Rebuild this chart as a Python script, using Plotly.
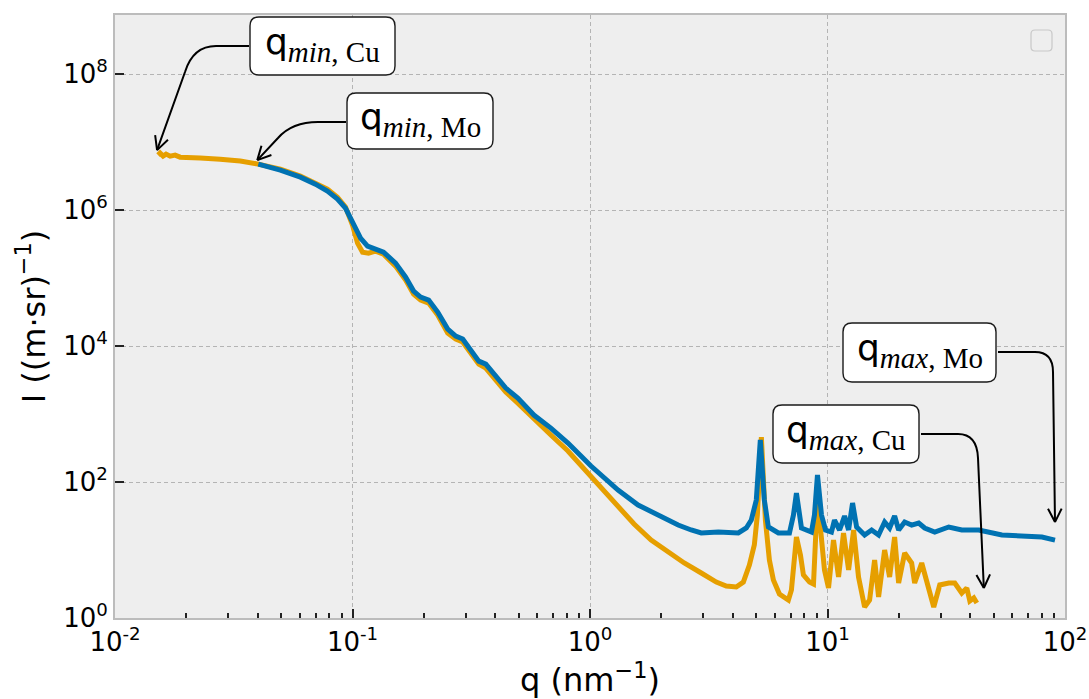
import numpy as np
import plotly.graph_objects as go

# ---------------- data ----------------
q_cu = [0.01518, 0.01548, 0.01594, 0.01641, 0.01707, 0.01791, 0.01880, 0.02073, 0.02284, 0.02773,
        0.03369, 0.04012, 0.04968, 0.06034, 0.06980, 0.07842, 0.08645, 0.09343, 0.1000, 0.1050,
        0.1102, 0.1168, 0.1250, 0.1351, 0.1518, 0.1674, 0.1808, 0.1936, 0.2093, 0.2284,
        0.2517, 0.2720, 0.2911, 0.3147, 0.3401, 0.3640, 0.4012, 0.4420, 0.4968, 0.5803,
        0.6844, 0.8077, 1.0097, 1.168, 1.3127, 1.533, 1.809, 2.134, 2.493, 2.941,
        3.402, 3.748, 4.130, 4.422, 4.689, 4.920, 5.066, 5.267, 5.476, 5.693,
        5.918, 6.274, 6.845, 7.048, 7.400, 7.693, 7.919, 8.398, 8.731, 9.073,
        9.434, 9.712, 10.10, 10.60, 11.13, 11.68, 12.27, 12.88, 13.51, 14.33,
        15.04, 15.79, 16.41, 17.40, 18.26, 19.17, 19.93, 21.13, 22.61, 23.28,
        24.93, 26.68, 28.01, 29.69, 32.40, 34.35, 36.76, 38.60, 39.74, 41.30, 42.54]
I_cu = [6.44e6, 6.89e6, 6.22e6, 6.66e6, 6.22e6, 6.44e6, 6.01e6, 6.01e6, 5.82e6, 5.62e6,
        5.26e6, 4.75e6, 4.01e6, 3.16e6, 2.50e6, 2.04e6, 1.55e6, 1.11e6, 6.01e5, 3.27e5,
        2.41e5, 2.33e5, 2.49e5, 2.25e5, 1.50e5, 9.35e4, 5.82e4, 4.75e4, 4.29e4, 2.86e4,
        1.55e4, 1.27e4, 1.15e4, 7.89e3, 5.43e3, 4.75e3, 3.06e3, 2.11e3, 1.45e3, 844,
        491, 286, 119, 71.3, 42.9, 24.1, 14.0, 9.35, 6.44, 4.59,
        3.38, 2.96, 2.86, 3.38, 6.02, 11.9, 32.7, 459, 27.6, 7.13,
        3.62, 2.25, 1.84, 2.58, 15.5, 8.44, 4.29, 3.38, 3.16, 60.2,
        11.9, 5.08, 2.76, 14.0, 4.01, 17.8, 5.08, 19.7, 4.01, 1.45,
        1.84, 7.13, 2.04, 10.0, 4.01, 15.5, 3.27, 9.03, 6.44, 3.27,
        6.44, 2.86, 1.45, 3.06, 3.27, 3.27, 2.33, 2.76, 1.78, 1.97, 1.66]

q_mo = [0.04012, 0.04968, 0.06034, 0.06980, 0.07842, 0.08645, 0.09343, 0.1010, 0.1081, 0.1157,
        0.1250, 0.1351, 0.1518, 0.1674, 0.1808, 0.1936, 0.2093, 0.2284, 0.2517, 0.2720,
        0.2911, 0.3147, 0.3401, 0.3640, 0.4012, 0.4420, 0.4968, 0.5803, 0.6844, 0.8077,
        1.0097, 1.3127, 1.594, 1.936, 2.351, 2.668, 2.941, 3.469, 4.212, 4.551,
        4.777, 5.015, 5.214, 5.421, 5.636, 6.212, 6.915, 7.188, 7.400, 7.768,
        8.560, 8.813, 9.073, 9.434, 9.808, 10.39, 10.70, 11.24, 11.80, 12.27,
        12.75, 13.26, 14.33, 15.34, 16.41, 17.40, 18.26, 19.17, 19.93, 21.13,
        22.61, 24.21, 25.66, 28.29, 32.40, 36.76, 43.36, 54.24, 65.86, 79.98, 90.76]
I_mo = [4.75e6, 3.87e6, 3.05e6, 2.41e6, 1.90e6, 1.45e6, 1.07e6, 6.01e5, 3.87e5, 2.96e5,
        2.67e5, 2.41e5, 1.66e5, 1.03e5, 6.44e4, 5.26e4, 4.75e4, 3.16e4, 1.78e4, 1.40e4,
        1.27e4, 8.73e3, 6.01e3, 5.43e3, 3.50e3, 2.41e3, 1.72e3, 966, 622, 375,
        172, 76.3, 45.9, 32.7, 23.3, 19.7, 17.8, 18.4, 17.8, 21.1,
        27.6, 54.4, 415, 54.4, 21.8, 17.8, 17.8, 32.7, 68.9, 21.1,
        18.4, 32.7, 127, 32.7, 19.7, 18.4, 27.6, 19.7, 31.6, 19.7,
        49.1, 21.8, 16.6, 19.7, 16.6, 25.8, 21.1, 31.6, 19.7, 25.8,
        23.3, 24.9, 21.1, 18.4, 21.8, 19.7, 19.7, 16.6, 16.1, 15.5, 14.0]

x_tickvals = [0.01, 0.1, 1, 10, 100]
x_ticktext = ["10<sup>-2</sup>", "10<sup>-1</sup>", "10<sup>0</sup>", "10<sup>1</sup>", "10<sup>2</sup>"]
y_tickvals = [1, 1e2, 1e4, 1e6, 1e8]
y_ticktext = ["10<sup>0</sup>", "10<sup>2</sup>", "10<sup>4</sup>", "10<sup>6</sup>", "10<sup>8</sup>"]

labels = ["min", "min", "max", "max"]
sources = ["Cu", "Mo", "Mo", "Cu"]

# ---------------- layout geometry ----------------
W, H = 1089, 699
ML, MR, MT, MB = 115, 24, 15, 81
PW, PH = W - ML - MR, H - MT - MB
XR = [-2.0, 2.0]
YR = [0.0, 8.87]

C_CU = "#E69F00"
C_MO = "#0072B2"


def data_px(q, I):
    return (ML + (np.log10(q) - XR[0]) / (XR[1] - XR[0]) * PW,
            MT + PH - (np.log10(I) - YR[0]) / (YR[1] - YR[0]) * PH)


def paper(px, py):
    return (px - ML) / PW, (MT + PH - py) / PH


def fmt(px, py):
    a, b = paper(px, py)
    return f"{a:.5f},{b:.5f}"


def rrect_path(x0, y0, x1, y1, r):
    return (f"M{fmt(x0 + r, y0)} L{fmt(x1 - r, y0)} Q{fmt(x1, y0)} {fmt(x1, y0 + r)} "
            f"L{fmt(x1, y1 - r)} Q{fmt(x1, y1)} {fmt(x1 - r, y1)} L{fmt(x0 + r, y1)} "
            f"Q{fmt(x0, y1)} {fmt(x0, y1 - r)} L{fmt(x0, y0 + r)} Q{fmt(x0, y0)} {fmt(x0 + r, y0)} Z")


def arrow_paths(S, Hp, C, E, T, hl=15, ang=27):
    body = f"M{fmt(*S)} L{fmt(*Hp)} Q{fmt(*C)} {fmt(*E)} L{fmt(*T)}"
    d = np.array(T, float) - np.array(E, float)
    d = d / np.linalg.norm(d)
    heads = []
    for s in (+1, -1):
        a = np.radians(s * ang)
        rot = np.array([d[0] * np.cos(a) - d[1] * np.sin(a), d[0] * np.sin(a) + d[1] * np.cos(a)])
        b = np.array(T) - hl * rot
        heads.append(f"M{fmt(*b)} L{fmt(*T)}")
    return body, " ".join(heads)


fig = go.Figure()
fig.add_trace(go.Scatter(x=q_cu, y=I_cu, mode="lines", line=dict(color=C_CU, width=5), name="Cu"))
fig.add_trace(go.Scatter(x=q_mo, y=I_mo, mode="lines", line=dict(color=C_MO, width=5), name="Mo"))

# anchor points of arrows from data
cu0 = data_px(q_cu[0], I_cu[0])
mo0 = data_px(q_mo[0], I_mo[0])
cuN = data_px(q_cu[-1], I_cu[-1])
moN = data_px(q_mo[-1], I_mo[-1])

boxes = [(250, 17, 395, 75), (347, 93, 493, 149), (843, 323, 996, 382), (773, 405, 919, 463)]
tips = [(cu0[0] - 1, cu0[1] - 5), (mo0[0] - 1, mo0[1] - 4), (moN[0], moN[1] - 18), (cuN[0] + 7, cuN[1] - 15)]
arrows = [
    ((249, 46), (216, 46), (193, 46), (185, 72)),
    ((346, 122), (318, 122), (292, 122), (278, 138)),
    ((998, 352), (1035, 352), (1053, 352), (1053, 372)),
    ((921, 434), (958, 434), (977, 434), (978, 458)),
]

shapes = []
annotations = []
for (bx0, by0, bx1, by1), tip, (S, Hp, C, E), lab, src in zip(boxes, tips, arrows, labels, sources):
    body, heads = arrow_paths(S, Hp, C, E, tip)
    for p in (body, heads):
        shapes.append(dict(type="path", path=p, xref="paper", yref="paper",
                           line=dict(color="black", width=2), layer="above"))
    shapes.append(dict(type="path", path=rrect_path(bx0, by0, bx1, by1, 9), xref="paper", yref="paper",
                       line=dict(color="#1a1a1a", width=1.4), fillcolor="white", layer="above"))
    cx, cy = paper((bx0 + bx1) / 2, (by0 + by1) / 2 - 2)
    txt = ("q<sub><span style=\"font-family:'Liberation Serif';font-size:29px\">"
           f"<i>{lab}</i>, {src}</span></sub>")
    annotations.append(dict(x=cx, y=cy, xref="paper", yref="paper", text=txt, showarrow=False,
                            xanchor="center", yanchor="middle",
                            font=dict(family="DejaVu Sans", size=36, color="black")))

# empty legend frame
shapes.append(dict(type="path", path=rrect_path(1031, 30, 1052, 51, 4), xref="paper", yref="paper",
                   line=dict(color="#c8c8c8", width=1.2), fillcolor="rgba(238,238,238,0.8)", layer="above"))

minor_x = [k * 10.0 ** n for n in range(-2, 2) for k in range(2, 10)]

axis_common = dict(type="log", showline=True, linecolor="#bcbcbc", linewidth=2, mirror=True,
                   showgrid=True, gridcolor="#b4b4b4", gridwidth=1, griddash="4px,3px",
                   ticks="inside", ticklen=9, tickwidth=2, tickcolor="#222222",
                   tickfont=dict(family="DejaVu Sans", size=26, color="black"),
                   zeroline=False, automargin=False)

fig.update_layout(
    width=W, height=H,
    margin=dict(l=ML, r=MR, t=MT, b=MB),
    paper_bgcolor="white", plot_bgcolor="#eeeeee",
    showlegend=False,
    font=dict(family="DejaVu Sans", color="black"),
    xaxis=dict(axis_common, range=XR, tickmode="array", tickvals=x_tickvals, ticktext=x_ticktext,
               minor=dict(tickmode="array", tickvals=minor_x, ticks="inside", ticklen=5, tickwidth=1.5,
                          tickcolor="#222222", showgrid=False),
               title=dict(text="q (nm<sup>−1</sup>)", font=dict(size=32), standoff=6)),
    yaxis=dict(axis_common, range=YR, tickmode="array", tickvals=y_tickvals, ticktext=y_ticktext,
               title=dict(text="I ((m·sr)<sup>−1</sup>)", font=dict(size=32), standoff=8)),
    shapes=shapes,
    annotations=annotations,
)

fig.write_html("out.html", config={"displayModeBar": False},
               post_script="document.body.style.margin='0';document.body.style.padding='0';")
